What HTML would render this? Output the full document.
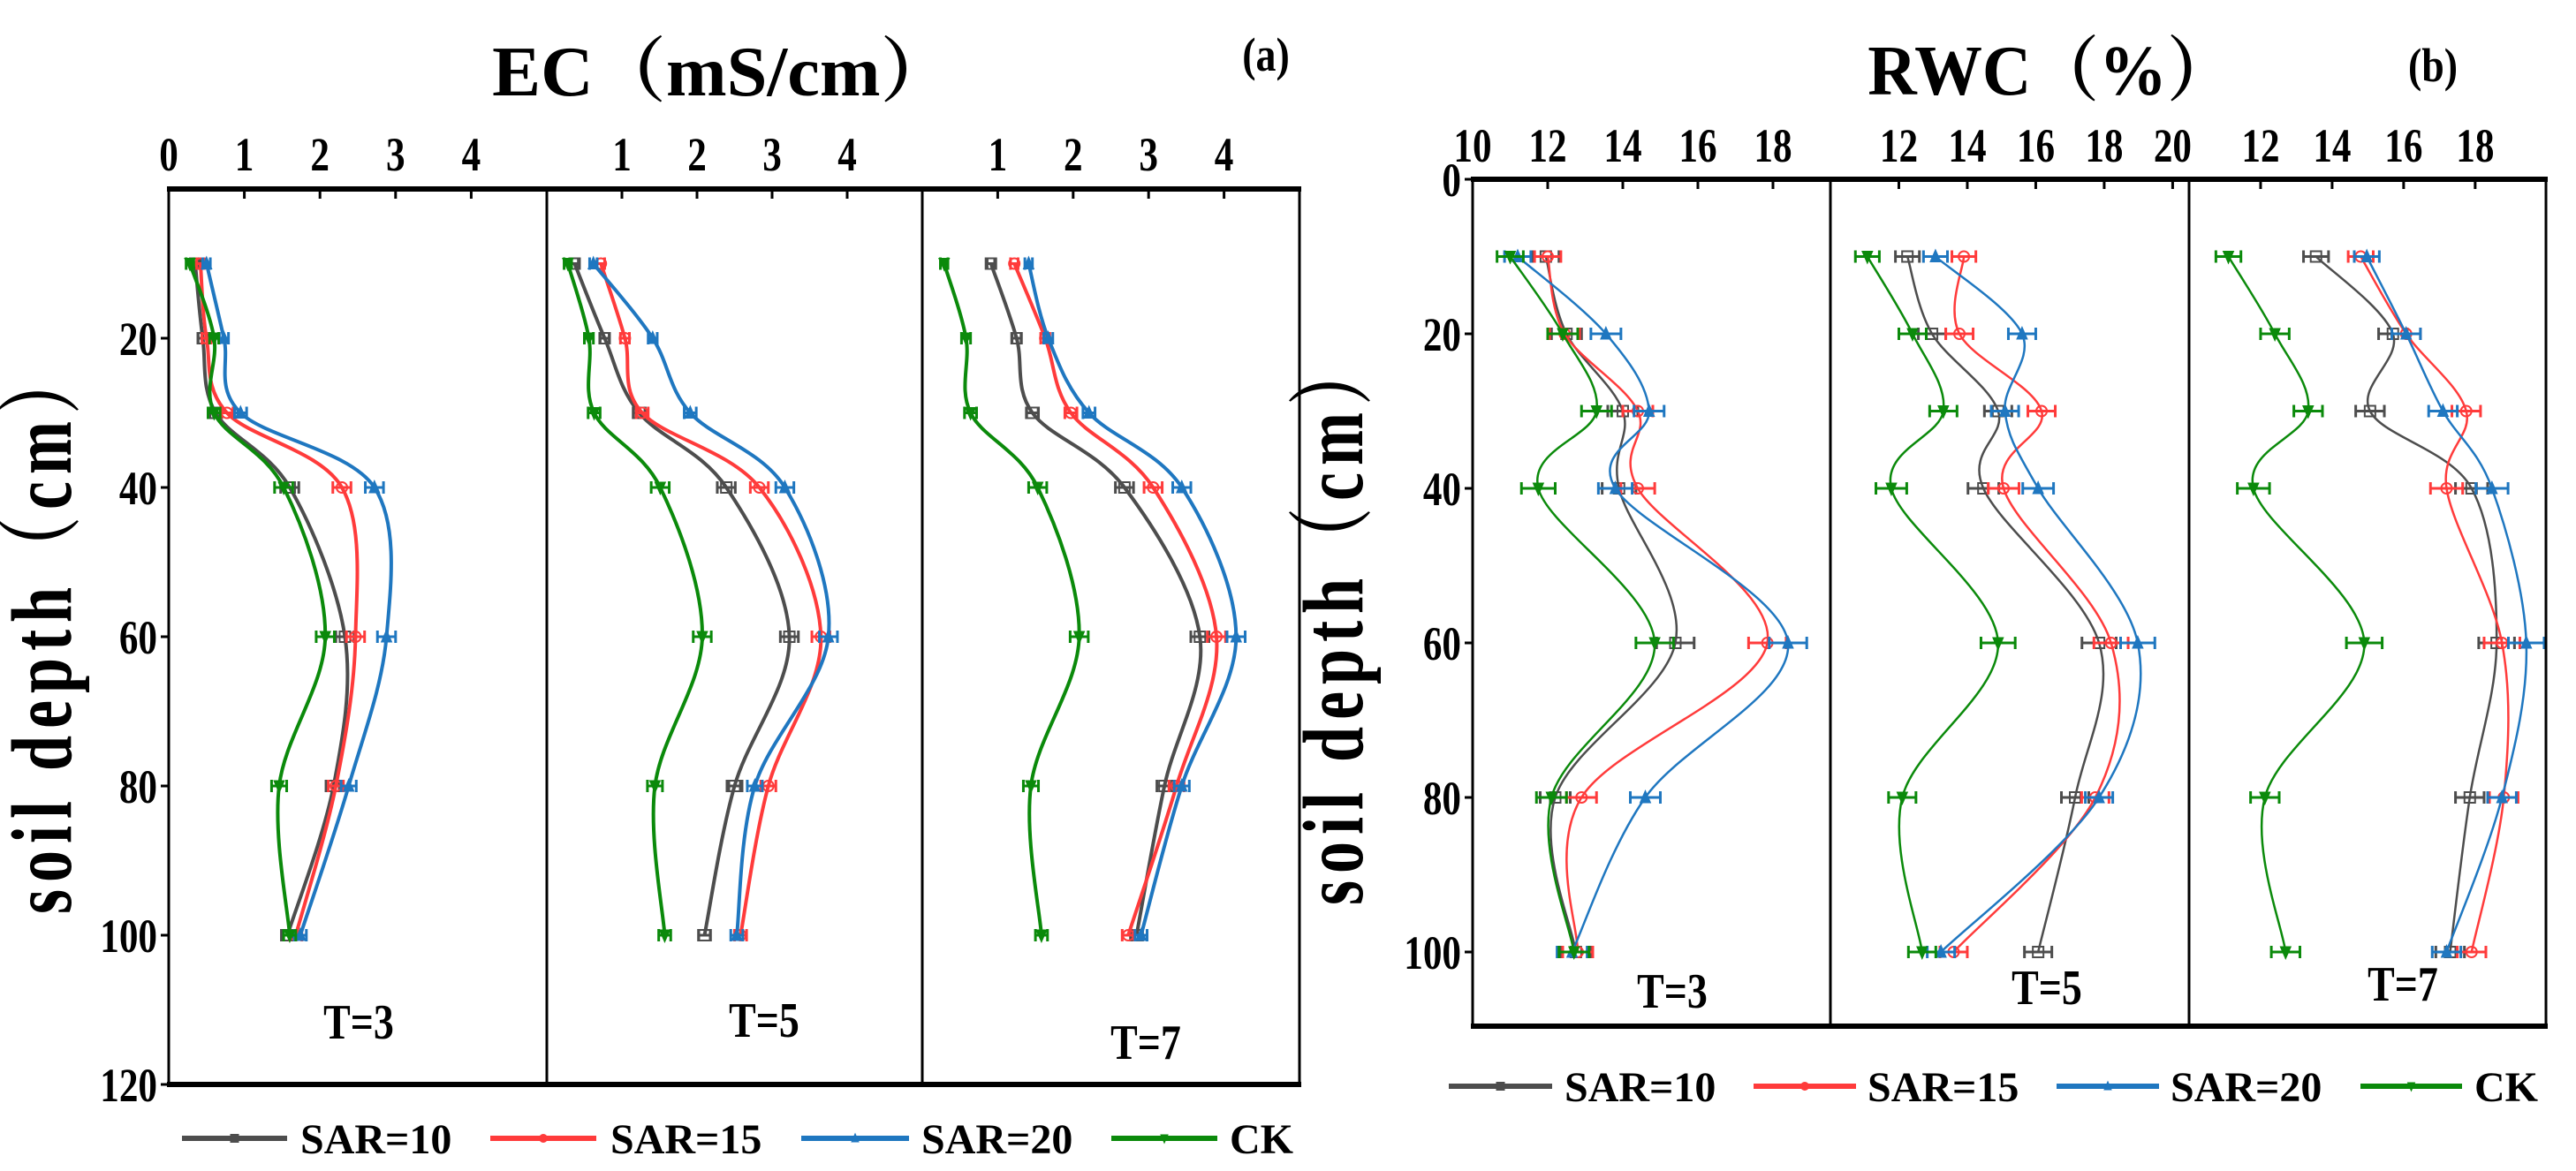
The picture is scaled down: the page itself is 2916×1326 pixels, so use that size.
<!DOCTYPE html>
<html><head><meta charset="utf-8"><style>
html,body{margin:0;padding:0;background:#fff;}
svg{display:block;}
text{font-family:"Liberation Serif","Noto Serif CJK SC",serif;font-weight:bold;fill:#000;}
</style></head><body>
<svg id="fig" width="2916" height="1326" viewBox="0 0 2916 1326" xmlns="http://www.w3.org/2000/svg">
<rect width="2916" height="1326" fill="#fff"/>
</svg>
<script>
const depths=[10,20,30,40,60,80,100];
const seriesNames=["SAR=10","SAR=15","SAR=20","CK"];
const colors=["#4d4d4d","#ff3b3b","#1f77c0","#0b8a0b"];
// EC (mS/cm), panels T=3, T=5, T=7
const ecT3_sar10=[0.35,0.45,0.62,1.60,2.33,2.18,1.57];
const ecT3_sar15=[0.42,0.50,0.77,2.29,2.47,2.21,1.68];
const ecT3_sar20=[0.50,0.73,0.95,2.72,2.88,2.38,1.74];
const ecT3_ck=[0.28,0.60,0.60,1.52,2.07,1.46,1.60];
const ecT5_sar10=[0.37,0.77,1.23,2.39,3.23,2.50,2.10];
const ecT5_sar15=[0.72,1.04,1.27,2.83,3.65,2.95,2.58];
const ecT5_sar20=[0.62,1.41,1.91,3.17,3.75,2.77,2.53];
const ecT5_ck=[0.28,0.56,0.63,1.51,2.07,1.44,1.57];
const ecT7_sar10=[0.91,1.25,1.46,2.68,3.68,3.21,2.84];
const ecT7_sar15=[1.22,1.63,1.97,3.06,3.90,3.37,2.73];
const ecT7_sar20=[1.41,1.67,2.21,3.44,4.16,3.44,2.90];
const ecT7_ck=[0.29,0.58,0.64,1.53,2.08,1.44,1.58];
const ecErr=[0.05,0.06,0.08,0.12,0.12,0.1,0.08];
// RWC (%)
const rwcT3_sar10=[11.95,12.5,14.0,13.9,15.4,12.2,12.75];
const rwcT3_sar15=[12.0,12.45,14.4,14.4,17.85,12.9,12.8];
const rwcT3_sar20=[11.2,13.55,14.7,13.8,18.4,14.6,12.65];
const rwcT3_ck=[11.0,12.4,13.3,11.75,14.85,12.1,12.7];
const rwcT5_sar10=[12.25,12.97,14.9,14.47,17.85,17.15,16.07];
const rwcT5_sar15=[13.9,13.77,16.17,15.06,18.2,17.74,13.6];
const rwcT5_sar20=[13.07,15.6,15.1,16.07,18.98,17.85,13.23];
const rwcT5_ck=[11.08,12.4,13.3,11.78,14.9,12.1,12.68];
const rwcT7_sar10=[13.55,15.7,15.06,17.9,18.6,17.85,17.3];
const rwcT7_sar15=[14.8,16.07,17.75,17.2,18.75,18.8,17.9];
const rwcT7_sar20=[14.97,16.07,17.1,18.47,19.43,18.75,17.2];
const rwcT7_ck=[11.1,12.4,13.33,11.8,14.9,12.12,12.7];
const rwcErr=[0.35,0.4,0.4,0.45,0.5,0.4,0.4];
const ecTicksP1=[0,1,2,3,4], ecTicksP23=[1,2,3,4];
const ecYTicks=[20,40,60,80,100,120];
const rwcTicksP1=[10,12,14,16,18], rwcTicksP2=[12,14,16,18,20], rwcTicksP3=[12,14,16,18];
const rwcYTicks=[0,20,40,60,80,100];

const NS="http://www.w3.org/2000/svg";
const svg=document.getElementById('fig');
function mk(tag,attrs,parent){const e=document.createElementNS(NS,tag);for(const k in attrs)e.setAttribute(k,attrs[k]);(parent||svg).appendChild(e);return e;}
function txt(s,x,y,size,anchor,sx,parent){const t=mk('text',{x:0,y:0,'font-size':size,'text-anchor':anchor||'middle',transform:`translate(${x},${y}) scale(${sx||0.8},1)`},parent);t.textContent=s;return t;}

function spline(pts){let d=`M${pts[0][0]},${pts[0][1]}`;for(let i=0;i<pts.length-1;i++){const p0=pts[Math.max(0,i-1)],p1=pts[i],p2=pts[i+1],p3=pts[Math.min(pts.length-1,i+2)];const c1=[p1[0]+(p2[0]-p0[0])/6,p1[1]+(p2[1]-p0[1])/6],c2=[p2[0]-(p3[0]-p1[0])/6,p2[1]-(p3[1]-p1[1])/6];d+=` C${c1[0]},${c1[1]} ${c2[0]},${c2[1]} ${p2[0]},${p2[1]}`;}return d;}
function marker(k,x,y,c,s,g){
 if(k===0)return mk('rect',{x:x-s,y:y-s,width:2*s,height:2*s,fill:'none',stroke:c,'stroke-width':2},g);
 if(k===1)return mk('circle',{cx:x,cy:y,r:s,fill:'none',stroke:c,'stroke-width':2},g);
 if(k===2)return mk('polygon',{points:`${x},${y-s*1.3} ${x-s},${y+s} ${x+s},${y+s}`,fill:c,stroke:c,'stroke-width':1},g);
 return mk('polygon',{points:`${x},${y+s*1.3} ${x-s},${y-s} ${x+s},${y-s}`,fill:c,stroke:c,'stroke-width':1},g);}

function drawChart(cfg){
 const g=mk('g',{});
 
 
 const yS=d=>cfg.y0+d*cfg.ppy;
 const yBot=yS(cfg.ymax);
 cfg.panels.forEach((p,pi)=>{
  const xS=v=>p.x0+(v-p.min)*(p.x1-p.x0)/(p.max-p.min);
  const pg=mk('g',{},g);
  
  
  p.ticks.forEach(v=>{const x=xS(v);
   const tk=mk('line',{x1:x,y1:cfg.y0,x2:x,y2:cfg.y0+11,stroke:'#000','stroke-width':3},pg);
   
   const tl=txt(String(v),x,cfg.tickLabelY,cfg.tickSize,'middle',0.8,pg);
   });
  p.series.forEach((vals,si)=>{
   const pts=vals.map((v,i)=>[xS(v),yS(depths[i])]);
   const ln=mk('path',{d:spline(pts),fill:'none',stroke:colors[si],'stroke-width':cfg.lw},pg);
   
   
   vals.forEach((v,i)=>{const x=xS(v),y=yS(depths[i]);const e=cfg.err[i]*(p.x1-p.x0)/(p.max-p.min);
    const eb=mk('path',{d:`M${x-e},${y}H${x+e}M${x-e},${y-7}V${y+7}M${x+e},${y-7}V${y+7}`,stroke:colors[si],'stroke-width':3,fill:'none'},pg);
    
    const m=marker(si,x,y,colors[si],6,pg);
    });
  });
  const tl=txt(p.label,p.tx,p.ty,cfg.tSize,'middle',0.82,g);
  
  if(pi>0){const dv=mk('line',{x1:p.x0,y1:cfg.y0,x2:p.x0,y2:yBot,stroke:'#000','stroke-width':3},g);
   }
 });
 const L=cfg.panels[0].x0,R=cfg.panels[cfg.panels.length-1].x1;
 const b1=mk('line',{x1:L,y1:cfg.y0,x2:L,y2:yBot,stroke:'#000','stroke-width':3},g);
 const b2=mk('line',{x1:R,y1:cfg.y0,x2:R,y2:yBot,stroke:'#000','stroke-width':3},g);
 const b3=mk('line',{x1:L-2,y1:cfg.y0,x2:R+2,y2:cfg.y0,stroke:'#000','stroke-width':6},g);
 const b4=mk('line',{x1:L-2,y1:yBot,x2:R+2,y2:yBot,stroke:'#000','stroke-width':6},g);
 cfg.yTicks.forEach(d=>{const y=yS(d);
  const tk=mk('line',{x1:L-9,y1:y,x2:L,y2:y,stroke:'#000','stroke-width':3},g);
  const t=txt(String(d),L-13,y+19,cfg.tickSize,'end',0.8,g);});
 const tt=txt(cfg.title,cfg.titleX,cfg.titleY,80,'middle',cfg.titleSx,g);
 const tg=txt(cfg.tag,cfg.tagX,cfg.tagY,54,'middle',0.85,g);
 const yl=mk('text',{x:0,y:0,'font-size':72,'letter-spacing':8,'text-anchor':'middle',transform:`translate(${cfg.ylX},${cfg.ylY}) rotate(-90) scale(1,1.35)`},g);
 yl.textContent='soil depth（cm）';
 cfg.legend.forEach((it,si)=>{const lg=mk('g',{},g);
  
  
  mk('line',{x1:it[0],y1:cfg.legY,x2:it[1],y2:cfg.legY,stroke:colors[si],'stroke-width':6},lg);
  marker(si,(it[0]+it[1])/2,cfg.legY,colors[si],4,lg);
  txt(seriesNames[si],it[2],cfg.legY+17,48,'start',1.0,lg);});
}

drawChart({name:'ec-chart',y0:214,ppy:8.45,ymax:120,lw:4,err:ecErr,tickSize:54,tickLabelY:193,tSize:56,
 yTicks:ecYTicks,title:'EC（mS/cm）',titleSx:1.03,titleX:818,titleY:108,tag:'(a)',tagX:1433,tagY:80,ylX:80,ylY:712,
 legY:1289,legend:[[206,325,340],[555,675,691],[907,1029,1043],[1258,1378,1392]],
 panels:[
  {label:'T=3',x0:191,x1:619,min:0,max:5,ticks:ecTicksP1,series:[ecT3_sar10,ecT3_sar15,ecT3_sar20,ecT3_ck],tx:406,ty:1176},
  {label:'T=5',x0:619,x1:1044,min:0,max:5,ticks:ecTicksP23,series:[ecT5_sar10,ecT5_sar15,ecT5_sar20,ecT5_ck],tx:865,ty:1174},
  {label:'T=7',x0:1044,x1:1471,min:0,max:5,ticks:ecTicksP23,series:[ecT7_sar10,ecT7_sar15,ecT7_sar20,ecT7_ck],tx:1297,ty:1199}]});

drawChart({name:'rwc-chart',y0:203,ppy:8.75,ymax:109.6,lw:2.5,err:rwcErr,tickSize:54,tickLabelY:183,tSize:56,
 yTicks:rwcYTicks,title:'RWC（%）',titleSx:0.96,titleX:2322,titleY:107,tag:'(b)',tagX:2754,tagY:92,ylX:1542,ylY:702,
 legY:1230,legend:[[1640,1757,1771],[1985,2101,2114],[2328,2444,2457],[2672,2787,2801]],
 panels:[
  {label:'T=3',x0:1667,x1:2072,min:10,max:19.53,ticks:rwcTicksP1,series:[rwcT3_sar10,rwcT3_sar15,rwcT3_sar20,rwcT3_ck],tx:1893,ty:1141},
  {label:'T=5',x0:2072,x1:2478,min:10,max:20.48,ticks:rwcTicksP2,series:[rwcT5_sar10,rwcT5_sar15,rwcT5_sar20,rwcT5_ck],tx:2317,ty:1137},
  {label:'T=7',x0:2478,x1:2882,min:10,max:19.98,ticks:rwcTicksP3,series:[rwcT7_sar10,rwcT7_sar15,rwcT7_sar20,rwcT7_ck],tx:2720,ty:1133}]});
</script>
</body></html>
